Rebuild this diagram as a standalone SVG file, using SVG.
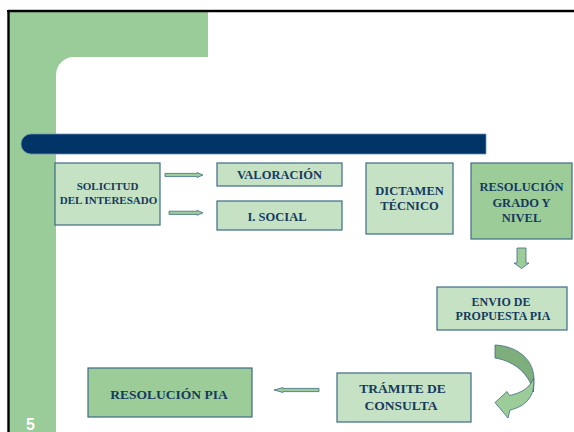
<svg xmlns="http://www.w3.org/2000/svg" width="574" height="432" viewBox="0 0 574 432">
<style>
.bx{stroke:#3f6a87;stroke-width:1.2}
.lt{fill:#c5e2c4}
.dk{fill:#9ccd99}
.t{font-family:"Liberation Serif","Times New Roman",serif;font-weight:bold;fill:#163a5e;text-anchor:middle}
.ar{fill:#9ccd99;stroke:#3f6a87;stroke-width:0.8}
</style>
<rect x="0" y="0" width="574" height="432" fill="#ffffff"/>
<g id="background">
<path d="M9,12 H208 V57 H74 A18,18 0 0 0 56,75 V432 H9 Z" fill="#99cc99"/>
<line x1="8" y1="9.5" x2="574" y2="9.5" stroke="#c8c8c8" stroke-width="1"/>
<line x1="7" y1="11.2" x2="574" y2="11.2" stroke="#000" stroke-width="2.2"/>
<line x1="8.5" y1="10" x2="8.5" y2="432" stroke="#000" stroke-width="2.4"/>
<path d="M31,134 H486 V154 H31 A10,10 0 0 1 31,134 Z" fill="#003366" stroke="#6f8fb0" stroke-width="0.8"/>
<text x="30.5" y="429.5" font-family="Liberation Sans,Arial,sans-serif" font-weight="bold" font-size="16" fill="#ffffff" text-anchor="middle">5</text>
</g>
<g id="n-solicitud">
<rect class="bx lt" x="55" y="163" width="105" height="62"/>
<text class="t" font-size="11" x="107.5" y="190">SOLICITUD</text>
<text class="t" font-size="11" x="108.5" y="204">DEL INTERESADO</text>
</g>
<g id="n-valoracion">
<rect class="bx lt" x="217" y="163" width="125" height="23"/>
<text class="t" font-size="12.5" x="279.5" y="179">VALORACIÓN</text>
</g>
<g id="n-social">
<rect class="bx lt" x="217" y="201" width="125" height="29"/>
<text class="t" font-size="12.5" x="277" y="221">I. SOCIAL</text>
</g>
<g id="n-dictamen">
<rect class="bx lt" x="366" y="163" width="87" height="71"/>
<text class="t" font-size="12.5" x="409.5" y="195">DICTAMEN</text>
<text class="t" font-size="12.5" x="409.5" y="210">TÉCNICO</text>
</g>
<g id="n-resolucion-grado">
<rect class="bx dk" x="471" y="163" width="101" height="76"/>
<text class="t" font-size="12.5" x="521.5" y="191">RESOLUCIÓN</text>
<text class="t" font-size="12.5" x="521.5" y="207">GRADO Y</text>
<text class="t" font-size="12.5" x="521.5" y="222">NIVEL</text>
</g>
<g id="n-envio">
<rect class="bx lt" x="437" y="287" width="130" height="43"/>
<text class="t" font-size="12" x="501" y="306">ENVIO DE</text>
<text class="t" font-size="12" x="503" y="320">PROPUESTA PIA</text>
</g>
<g id="n-tramite">
<rect class="bx lt" x="337" y="373" width="134" height="49"/>
<text class="t" font-size="13.5" x="402.5" y="393">TRÁMITE DE</text>
<text class="t" font-size="13.5" x="401" y="410">CONSULTA</text>
</g>
<g id="n-resolucion-pia">
<rect class="bx dk" x="88" y="368" width="164" height="49"/>
<text class="t" font-size="13.5" x="169" y="399">RESOLUCIÓN PIA</text>
</g>
<g id="connectors">
<path class="ar" d="M165,173.4 H197 V172.5 L203,175 L197,177.5 V176.6 H165 Z"/>
<path class="ar" d="M169,211.2 H197 V210.3 L203,212.8 L197,215.3 V214.4 H169 Z"/>
<path class="ar" d="M517,248 H526 V263 H529 L521.5,268.5 L514,263 H517 Z"/>
<path class="ar" d="M319,388.4 H283 V387.5 L274,390 L283,392.5 V391.6 H319 Z"/>
<path d="M495,345 C516,346 533,358 534,378 L533.5,392 C530,375 515,361 495,358 Z" fill="#7fae7d" stroke="#3f6a87" stroke-width="0.8"/>
<path d="M533.5,378 C536,397 524,407 510,410 L508,418 L495,402.5 L507,391.5 L509.5,395.5 C521,393 530,388 533.5,378 Z" fill="#9ccd99" stroke="#3f6a87" stroke-width="0.8"/>
</g>
</svg>
